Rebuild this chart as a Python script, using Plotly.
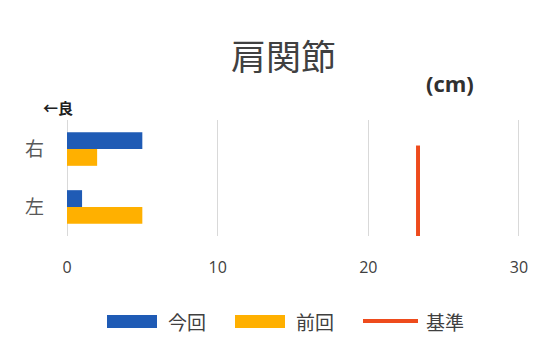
import plotly.graph_objects as go

# Shoulder joint measurements (cm), smaller is better
sides = ["右", "左"]
current = [5.0, 1.0]      # 今回
previous = [2.0, 5.0]     # 前回
standard = 23.3           # 基準
x_ticks = [0, 10, 20, 30]

BLUE = "#1F5BB5"
ORANGE = "#FFB000"
RED = "#EE4B1C"
JP = "Noto Sans CJK JP"

W, H = 557, 353
ML, MR, MT, MB = 67, 32, 120, 117
PW, PH = W - ML - MR, H - MT - MB


def px_x(p):
    return (p - ML) / PW


def px_y(p):
    return (H - MB - p) / PH


fig = go.Figure()
fig.add_trace(go.Bar(y=sides, x=current, orientation="h", name="今回",
                     marker=dict(color=BLUE, line=dict(width=0))))
fig.add_trace(go.Bar(y=sides, x=previous, orientation="h", name="前回",
                     marker=dict(color=ORANGE, line=dict(width=0))))
# Reference line drawn on a helper numeric axis so it spans part of the plot height
fig.add_trace(go.Scatter(x=[standard, standard], y=[0.0, 0.78], mode="lines",
                         yaxis="y2", name="基準",
                         line=dict(color=RED, width=4)))

fig.update_layout(
    width=W, height=H,
    margin=dict(l=ML, r=MR, t=MT, b=MB),
    paper_bgcolor="white", plot_bgcolor="white",
    barmode="group", bargap=0.42, bargroupgap=0,
    font=dict(family=JP, color="#595959"),
    xaxis=dict(range=[0, 30.4], tickvals=x_ticks, showgrid=True,
               gridcolor="#D9D9D9", gridwidth=1, zeroline=True,
               zerolinecolor="#D9D9D9", zerolinewidth=1, showline=False,
               tickfont=dict(family="Open Sans", size=16, color="#404040"),
               ticks="", ticklabelstandoff=20),
    yaxis=dict(categoryorder="array", categoryarray=sides, autorange="reversed",
               showgrid=False, zeroline=False, showline=False, ticks="",
               tickfont=dict(family=JP, size=19, color="#595959"),
               ticklabelstandoff=22),
    yaxis2=dict(overlaying="y", range=[0, 1], visible=False),
    showlegend=False,
)

annotations = [
    dict(text="肩関節", x=px_x(283), y=px_y(54),
         font=dict(family=JP, size=35, color="#404040")),
    dict(text="<b>(cm)</b>", x=px_x(450), y=px_y(83),
         font=dict(family="Open Sans", size=22, color="#303030")),
    dict(text="<b>←良</b>", x=px_x(58), y=px_y(107),
         font=dict(family=JP, size=15, color="#202020")),
]

# Legend drawn as shapes plus labels below the plot
legend_items = [("今回", BLUE, "bar", 107, 157, 187),
                ("前回", ORANGE, "bar", 235, 285, 315),
                ("基準", RED, "line", 363, 418, 445)]
shapes = []
for label, color, kind, x0, x1, tx in legend_items:
    if kind == "bar":
        shapes.append(dict(type="rect", xref="paper", yref="paper",
                           x0=px_x(x0), x1=px_x(x1), y0=px_y(328), y1=px_y(315),
                           fillcolor=color, line=dict(width=0)))
    else:
        shapes.append(dict(type="line", xref="paper", yref="paper",
                           x0=px_x(x0), x1=px_x(x1), y0=px_y(321), y1=px_y(321),
                           line=dict(color=color, width=4)))
    annotations.append(dict(text=label, x=px_x(tx), y=px_y(321),
                            font=dict(family=JP, size=19, color="#404040")))

for a in annotations:
    a.update(xref="paper", yref="paper", xanchor="center", yanchor="middle",
             showarrow=False)
fig.layout.annotations = annotations
fig.layout.shapes = shapes

fig.write_html("out.html")
